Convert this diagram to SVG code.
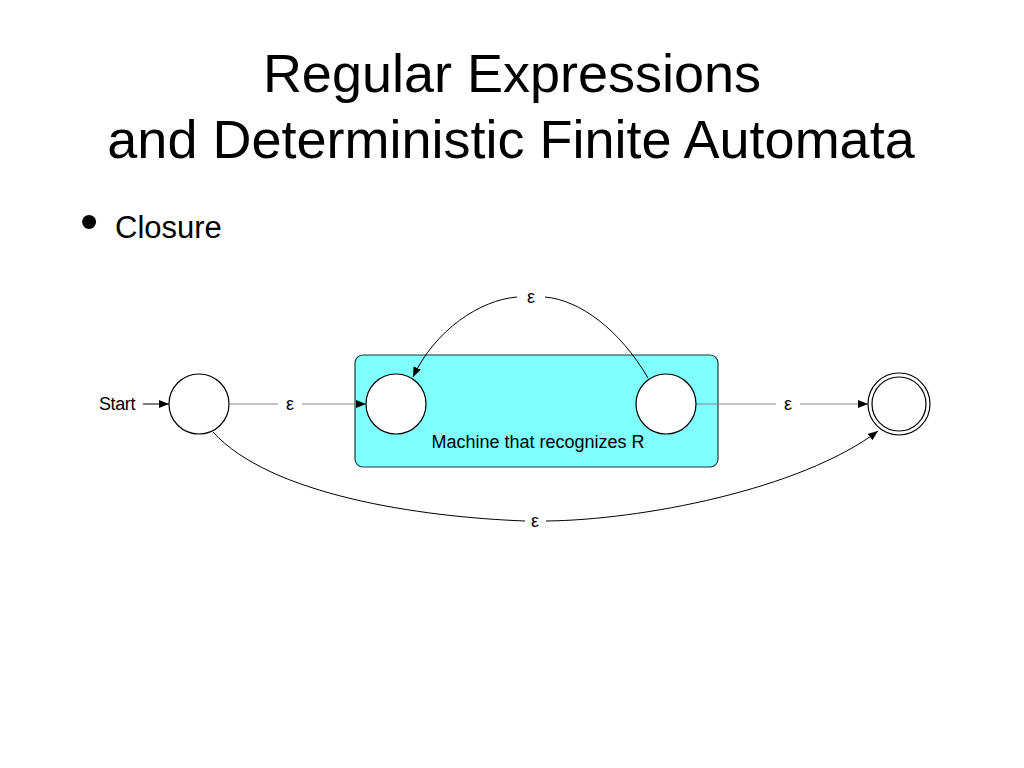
<svg xmlns="http://www.w3.org/2000/svg" width="1024" height="768" viewBox="0 0 1024 768">
<defs>
<style>
.t{font-family:"Liberation Sans",Arial,sans-serif;fill:#000}
.st{fill:#fff;stroke:#000;stroke-width:1.2}
.e{fill:none;stroke:#000;stroke-width:1}
.g{fill:none;stroke:#888;stroke-width:1.2}
.lbl{font-family:"Liberation Sans",Arial,sans-serif;font-size:18px;text-anchor:middle}
</style>
<marker id="ah" viewBox="0 0 10 8" refX="10" refY="4" markerWidth="10" markerHeight="8" markerUnits="userSpaceOnUse" orient="auto">
<path d="M0,0 L10,4 L0,8 z" fill="#000"/>
</marker>
</defs>
<rect width="1024" height="768" fill="#fff"/>
<text class="t" x="512" y="92" font-size="54" text-anchor="middle">Regular Expressions</text>
<text class="t" x="511" y="158" font-size="54" text-anchor="middle">and Deterministic Finite Automata</text>
<text class="t" x="80" y="239" font-size="52">•</text>
<text class="t" x="115" y="238" font-size="31">Closure</text>

<g id="machine">
<rect x="355" y="355" width="363" height="112" rx="8" fill="#80ffff" stroke="#1a3a3a" stroke-width="1.2"/>
<text class="t" x="538" y="448" font-size="18" text-anchor="middle">Machine that recognizes R</text>
</g>

<g id="connectors">
<text class="t" x="99" y="410" font-size="18" letter-spacing="-0.4">Start</text>
<line class="e" x1="143" y1="404" x2="169" y2="404" marker-end="url(#ah)" stroke-width="1.3"/>
<line class="g" x1="230" y1="404" x2="278" y2="404"/>
<line class="g" x1="302" y1="404" x2="366" y2="404" marker-end="url(#ah)"/>
<text class="lbl" x="290" y="410">ε</text>
<line class="g" x1="696" y1="404" x2="776" y2="404"/>
<line class="g" x1="800" y1="404" x2="868" y2="404" marker-end="url(#ah)"/>
<text class="lbl" x="788" y="410">ε</text>
<path class="e" d="M648,378 C620,330 580,300 545,297"/>
<path class="e" d="M517,297 C480,300 435,330 413,377" marker-end="url(#ah)"/>
<text class="lbl" x="531" y="303">ε</text>
<path class="e" d="M213,432 C270,495 420,517 525,521"/>
<path class="e" d="M546,521 C640,520 800,490 878,431" marker-end="url(#ah)"/>
<text class="lbl" x="535" y="527">ε</text>
</g>

<g id="q0"><circle class="st" cx="199" cy="404" r="30"/></g>
<g id="q1"><circle class="st" cx="396" cy="404" r="30"/></g>
<g id="q2"><circle class="st" cx="666" cy="404" r="30"/></g>
<g id="qf"><circle class="st" cx="899" cy="404" r="31"/><circle class="st" cx="899" cy="404" r="27"/></g>
</svg>
